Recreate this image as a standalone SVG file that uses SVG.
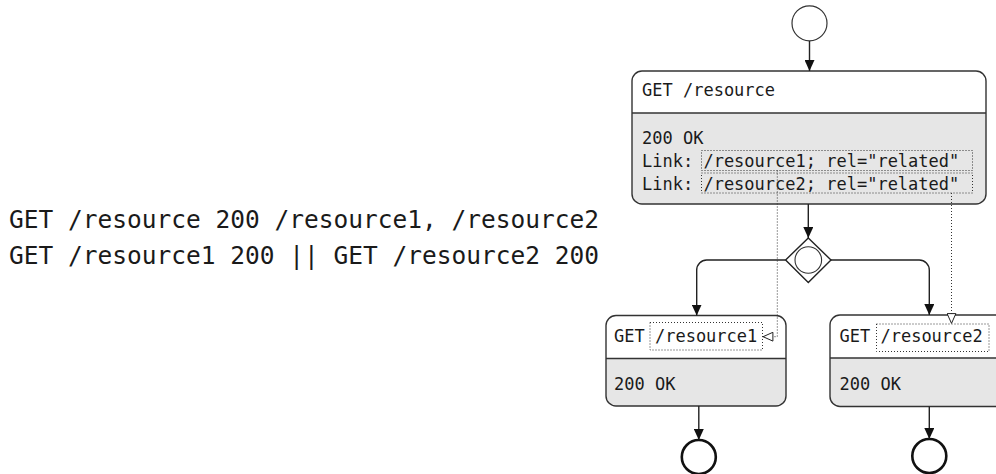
<svg xmlns="http://www.w3.org/2000/svg" width="996" height="474" viewBox="0 0 996 474">
<defs>
<style>
.t{font-family:"DejaVu Sans Mono","Liberation Mono",monospace;fill:#1a1a1a}
.big{font-size:24.5px}
.n{font-size:17px}
.hd{fill:#fff}
.bd{fill:#e6e6e6}
.frame{fill:none;stroke:#333;stroke-width:1.4}
.sep{stroke:#333;stroke-width:1.4}
.edge{fill:none;stroke:#222;stroke-width:1.4;marker-end:url(#ah)}
.dot{fill:none;stroke:#333;stroke-width:1;stroke-dasharray:1,2}
.ref{fill:none;stroke:#333;stroke-width:1;stroke-dasharray:1,2;marker-end:url(#oh)}
</style>
<marker id="ah" viewBox="0 0 11 10" refX="11" refY="5" markerWidth="11" markerHeight="10" markerUnits="userSpaceOnUse" orient="auto">
<path d="M0,0 L11,5 L0,10 z" fill="#111"/>
</marker>
<marker id="oh" viewBox="0 0 11 10" refX="11" refY="5" markerWidth="11" markerHeight="10" markerUnits="userSpaceOnUse" orient="auto">
<path d="M0.6,0.6 L10.4,5 L0.6,9.4 z" fill="#fff" stroke="#222" stroke-width="1"/>
</marker>
</defs>
<rect width="996" height="474" fill="#fff"/>

<g id="caption">
<text class="t big" x="9" y="228">GET /resource 200 /resource1, /resource2</text>
<text class="t big" x="9" y="264">GET /resource1 200 || GET /resource2 200</text>
</g>

<g id="start">
<circle cx="809.5" cy="23.3" r="17.5" fill="#fff" stroke="#333" stroke-width="1.2"/>
</g>

<g id="get-resource">
<path class="hd" d="M642,71 H976 A10,10 0 0 1 986,81 V113 H632 V81 A10,10 0 0 1 642,71 z"/>
<path class="bd" d="M632,113 H986 V194 A10,10 0 0 1 976,204 H642 A10,10 0 0 1 632,194 z"/>
<rect class="frame" x="632" y="71" width="354" height="133" rx="10"/>
<line class="sep" x1="632" y1="113" x2="986" y2="113"/>
<text class="t n" x="642" y="96">GET /resource</text>
<text class="t n" x="642" y="144">200 OK</text>
<text class="t n" x="642" y="167">Link: /resource1; rel="related"</text>
<text class="t n" x="642" y="190">Link: /resource2; rel="related"</text>
<rect class="dot" x="701.5" y="150.5" width="271" height="20"/>
<rect class="dot" x="701.5" y="173" width="271" height="20"/>
</g>

<g id="fork">
<path d="M808.3,238 L831,260 L808.3,282.5 L785.6,260 z" fill="#fff" stroke="#222" stroke-width="1.4"/>
<circle cx="808.3" cy="260" r="13.3" fill="none" stroke="#333" stroke-width="1.1"/>
</g>

<g id="get-resource1">
<path class="hd" d="M616,315.5 H776 A10,10 0 0 1 786,325.5 V358.5 H606 V325.5 A10,10 0 0 1 616,315.5 z"/>
<path class="bd" d="M606,358.5 H786 V396 A10,10 0 0 1 776,406 H616 A10,10 0 0 1 606,396 z"/>
<rect class="frame" x="606" y="315.5" width="180" height="90.5" rx="10"/>
<line class="sep" x1="606" y1="358.5" x2="786" y2="358.5"/>
<text class="t n" x="614" y="342">GET /resource1</text>
<rect class="dot" x="650" y="322.5" width="112.5" height="27.5"/>
<text class="t n" x="614" y="390">200 OK</text>
</g>

<g id="get-resource2">
<path class="hd" d="M840,315 H1000 A10,10 0 0 1 1010,325 V358 H830 V325 A10,10 0 0 1 840,315 z"/>
<path class="bd" d="M830,358 H1010 V396.5 A10,10 0 0 1 1000,406.5 H840 A10,10 0 0 1 830,396.5 z"/>
<rect class="frame" x="830" y="315" width="180" height="91.5" rx="10"/>
<line class="sep" x1="830" y1="358" x2="1010" y2="358"/>
<text class="t n" x="839.5" y="342">GET /resource2</text>
<rect class="dot" x="876.5" y="324" width="112.5" height="27.5"/>
<text class="t n" x="839.5" y="390">200 OK</text>
</g>

<g id="end1">
<circle cx="698.8" cy="457" r="17" fill="#fff" stroke="#111" stroke-width="2.6"/>
</g>
<g id="end2">
<circle cx="929.3" cy="456" r="17" fill="#fff" stroke="#111" stroke-width="2.6"/>
</g>

<g id="connectors">
<path class="edge" d="M809.5,41 V71"/>
<path class="edge" d="M808.3,204 V238"/>
<path class="edge" d="M785.6,260 H706.7 A10,10 0 0 0 696.7,270 V315.5"/>
<path class="edge" d="M831,260 H919.3 A10,10 0 0 1 929.3,270 V315"/>
<path class="edge" d="M698.8,406 V440"/>
<path class="edge" d="M929.3,406.5 V439"/>
<path class="ref" d="M777.3,170.5 V336.7 H762.5"/>
<path class="ref" d="M951.5,193 V324"/>
</g>
</svg>
